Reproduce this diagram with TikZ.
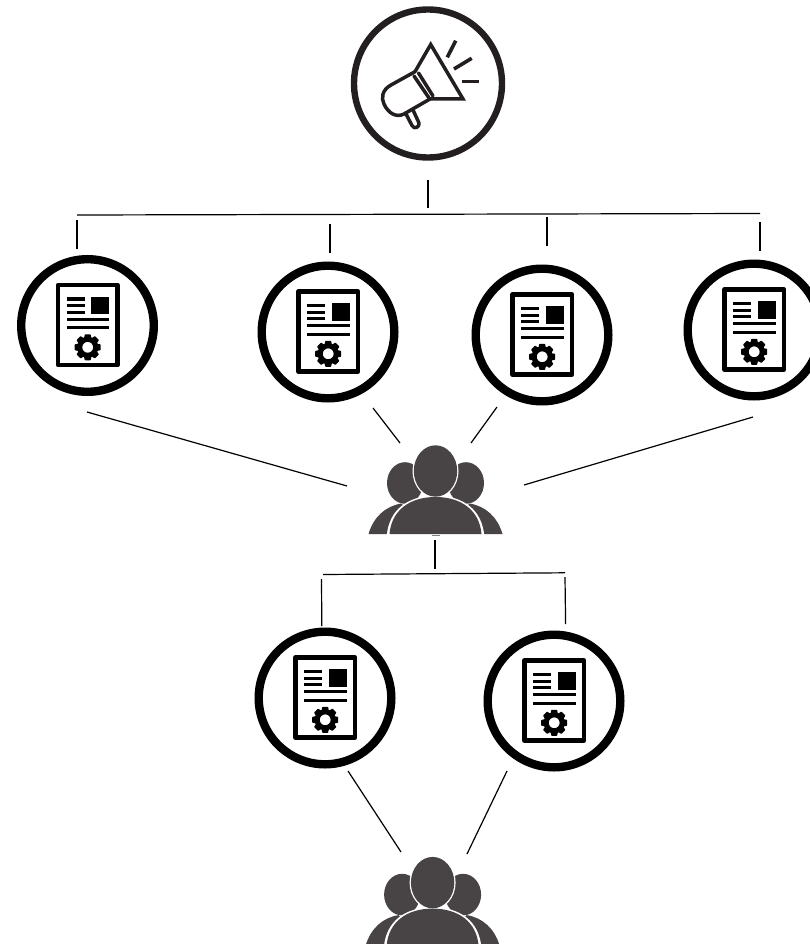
\documentclass[tikz,border=0pt]{standalone}
\definecolor{ink}{HTML}{231F20}
\definecolor{crowd}{HTML}{484344}
\tikzset{
  link/.style={draw=black,line width=1.2pt},
  ring/.style={draw=black,line width=8.4pt,fill=white},
  txtline/.style={draw=black,line width=3.2pt},
  megaline/.style={draw=ink,line width=3.5pt,line join=round,line cap=round},
  doc/.pic={
    \draw[ring] (0,0) circle (66.3);
    \draw[draw=black,line width=4.6pt,line join=round] (-29.5,-40.5) rectangle (30,39.5);
    \foreach \yy in {-26.5,-19.8,-13.2}{\draw[txtline] (-20.8,\yy) -- (-2.8,\yy);}
    \fill[black] (3.5,-28.8) rectangle (21.5,-11.5);
    \foreach \yy in {-6.2,2.2}{\draw[txtline] (-20.8,\yy) -- (21.5,\yy);}
    \begin{scope}[shift={(0.2,21.8)}]
      \foreach \aa in {0,45,...,315}{\fill[black,rotate=\aa,rounded corners=0.6pt] (-3.8,-8.5) -- (-2.9,-13) -- (2.9,-13) -- (3.8,-8.5) -- cycle;}
      \draw[black,line width=5pt] (0,0) circle (8);
    \end{scope}
  },
  people/.pic={
    \fill[crowd] (-30.5,-12) ellipse (18 and 20.8);
    \fill[crowd] (30.5,-12) ellipse (18 and 20.8);
    \fill[crowd] (-67,39) .. controls (-62,22) and (-50,11) .. (-34,8.5) -- (-20,25) -- (-49,39) -- cycle;
    \fill[crowd] (67,39) .. controls (62,22) and (50,11) .. (34,8.5) -- (20,25) -- (49,39) -- cycle;
    \fill[white] (-48.8,41) .. controls (-46.5,14) and (-27,0.7) .. (0,0.7) .. controls (27,0.7) and (46.5,14) .. (48.8,41) -- cycle;
    \fill[white] (0,-24) ellipse (23 and 27);
    \fill[crowd] (0,-24) ellipse (21.7 and 25.7);
    \fill[crowd] (-46,39) .. controls (-44,15.5) and (-26,2) .. (0,2) .. controls (26,2) and (44,15.5) .. (46,39) -- cycle;
  }
}
\begin{document}
\begin{tikzpicture}[x=1pt,y=-1pt]
\useasboundingbox (0,0) rectangle (810,944);
\begin{scope}
\clip (0,0) rectangle (810,944);
% announcement icon
\draw[draw=ink,line width=6.4pt,fill=white] (428,83.5) circle (74);
\draw[megaline,line join=miter] (415,71.7) -- (430.7,44.5) -- (463,99) -- (430,99);
\draw[megaline] (415,71.7) -- (391,85) .. controls (382,90) and (381,98) .. (384,104) .. controls (388,113) and (396,118) .. (404,114) -- (430,99);
\draw[megaline] (414,76) -- (429,98);
\draw[megaline] (418.5,73) -- (433,96);
\draw[megaline] (405.5,113) -- (412,125.5) .. controls (414,130) and (420,127) .. (419,123) -- (413,110);
\draw[draw=ink,line width=3.6pt] (455.7,40.7) -- (447.3,57.3);
\draw[draw=ink,line width=3.6pt] (471.7,58.3) -- (454,69);
\draw[draw=ink,line width=3.6pt] (461.7,81.7) -- (479.3,81.7);
% documents
\path (87.5,325.5) pic {doc};
\path (328,332) pic {doc};
\path (542,335) pic {doc};
\path (754,330) pic {doc};
\path (325,698) pic {doc};
\path (554,701) pic {doc};
% crowds
\path (435.5,495) pic {people};
\path (432.6,906.6) pic {people};
\end{scope}
% connector ends
\coordinate (topA) at (428,180); \coordinate (topB) at (428,208);
\coordinate (busL) at (77,215); \coordinate (busR) at (760,213.5);
\coordinate (d1a) at (77,220); \coordinate (d1b) at (77,249);
\coordinate (d2a) at (330,224); \coordinate (d2b) at (330,253);
\coordinate (d3a) at (547,217); \coordinate (d3b) at (547,246);
\coordinate (d4a) at (760,222); \coordinate (d4b) at (760,251);
\coordinate (e1a) at (87,412); \coordinate (e1b) at (347,486);
\coordinate (e2a) at (373,408); \coordinate (e2b) at (400,443);
\coordinate (e3a) at (497,407); \coordinate (e3b) at (471,443);
\coordinate (e4a) at (753,417); \coordinate (e4b) at (524,485);
\coordinate (midA) at (435,540); \coordinate (midB) at (435,569);
\coordinate (bus2L) at (323,574.5); \coordinate (bus2R) at (565,572.8);
\coordinate (f1a) at (321.5,579); \coordinate (f1b) at (321.8,626);
\coordinate (f2a) at (565,577); \coordinate (f2b) at (565.6,624);
\coordinate (g1a) at (348,771); \coordinate (g1b) at (401,852);
\coordinate (g2a) at (507,771); \coordinate (g2b) at (467,854);
\coordinate (tickA) at (432,535.3); \coordinate (tickB) at (440,535.3);
\foreach \pa/\pb in {topA/topB,busL/busR,d1a/d1b,d2a/d2b,d3a/d3b,d4a/d4b,e1a/e1b,e2a/e2b,e3a/e3b,e4a/e4b,midA/midB,bus2L/bus2R,f1a/f1b,f2a/f2b,g1a/g1b,g2a/g2b}{\draw[link] (\pa) -- (\pb);}
\draw[draw=gray,line width=0.8pt] (tickA) -- (tickB);
\end{tikzpicture}
\end{document}
